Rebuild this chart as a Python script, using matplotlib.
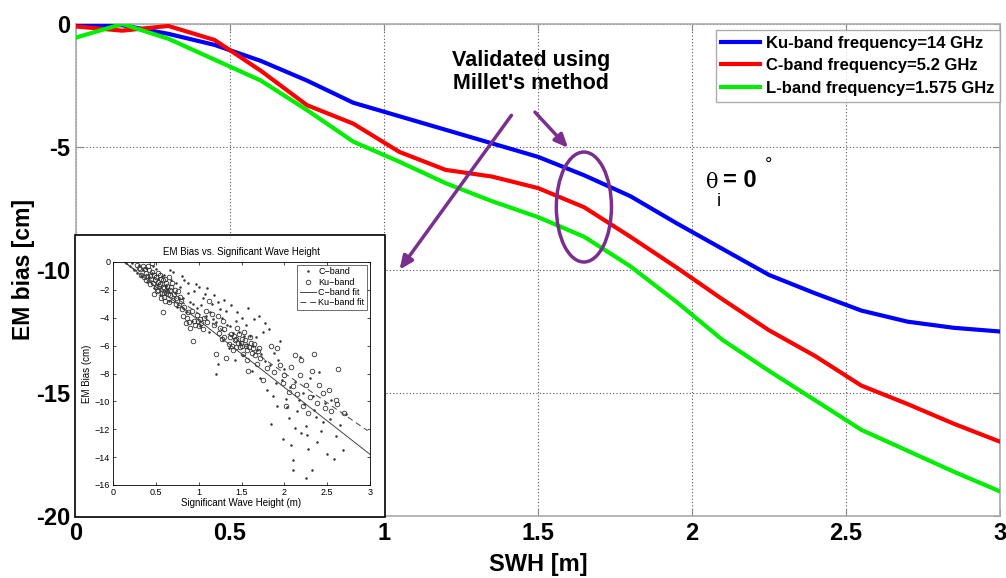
import matplotlib
matplotlib.use("Agg")
import matplotlib.pyplot as plt
from matplotlib.patches import Ellipse, Rectangle

# ---------------- main chart data ----------------
swh = [0.0, 0.15, 0.3, 0.45, 0.6, 0.75, 0.9, 1.05, 1.2, 1.35, 1.5, 1.65, 1.8,
       1.95, 2.1, 2.25, 2.4, 2.55, 2.7, 2.85, 3.0]
ku_bias = [-0.05, -0.05, -0.4, -0.85, -1.5, -2.3, -3.2, -3.75, -4.3, -4.85, -5.4,
           -6.15, -7.0, -8.1, -9.15, -10.2, -10.95, -11.65, -12.1, -12.35, -12.5]
c_bias = [-0.1, -0.27, -0.08, -0.65, -1.9, -3.3, -4.05, -5.2, -5.93, -6.2, -6.67,
          -7.45, -8.65, -9.9, -11.2, -12.45, -13.5, -14.7, -15.45, -16.25, -16.98]
l_bias = [-0.55, 0.0, -0.6, -1.45, -2.3, -3.5, -4.78, -5.6, -6.47, -7.2, -7.85,
          -8.65, -9.85, -11.3, -12.85, -14.1, -15.3, -16.5, -17.35, -18.2, -19.0]
series_labels = ["Ku-band frequency=14 GHz", "C-band frequency=5.2 GHz",
                 "L-band frequency=1.575 GHz"]
x_ticks = [0, 0.5, 1, 1.5, 2, 2.5, 3]
x_ticklabels = ["0", "0.5", "1", "1.5", "2", "2.5", "3"]
y_ticks = [0, -5, -10, -15, -20]
y_ticklabels = ["0", "-5", "-10", "-15", "-20"]

# ---------------- inset data ----------------
ku_x = [0.28, 0.32, 0.35, 0.38, 0.40, 0.42, 0.44, 0.45, 0.47, 0.48, 0.50, 0.50, 0.52, 0.53,
        0.55, 0.55, 0.57, 0.58, 0.60, 0.60, 0.62, 0.63, 0.65, 0.66, 0.68, 0.70, 0.72, 0.74,
        0.58, 0.48, 0.36, 0.43, 0.65, 0.78, 0.80,
        0.30, 0.33, 0.37, 0.39, 0.41, 0.43, 0.46, 0.49, 0.51, 0.52, 0.54, 0.56, 0.56, 0.58,
        0.59, 0.61, 0.61, 0.63, 0.64, 0.67, 0.69, 0.71, 0.73, 0.76, 0.77, 0.79, 0.83, 0.86,
        0.89, 0.92, 0.96, 0.99, 1.03, 1.06,
        0.82, 0.85, 0.88, 0.90, 0.93, 0.95, 0.98, 1.00, 1.02, 1.05, 1.08, 1.10, 1.12, 1.15,
        1.18, 1.20, 1.22, 1.25, 1.28, 1.30,
        1.35, 1.38, 1.40, 1.42, 1.45, 1.46, 1.48, 1.50, 1.52, 1.53, 1.55, 1.57, 1.60, 1.62,
        1.65, 1.68, 1.70, 1.32, 1.58,
        1.36, 1.39, 1.41, 1.43, 1.44, 1.47, 1.49, 1.51, 1.54, 1.56, 1.59, 1.61, 1.63, 1.66,
        1.69, 1.72, 1.24, 1.27, 1.30,
        1.75, 1.80, 1.85, 1.88, 1.92, 1.95, 1.98, 2.00, 2.02, 2.05, 2.08, 2.10, 2.12, 2.15,
        2.18, 2.20, 2.22, 2.25, 2.28, 2.30, 2.32, 2.35, 2.38, 2.40, 2.45, 2.48, 2.52, 2.55,
        2.62, 2.63, 2.70, 2.60]
ku_y = [-0.2, -0.5, -0.3, -0.8, -1.0, -0.6, -1.2, -0.05, -1.5, -0.9, -1.8, -1.1, -1.4, -2.0,
        -1.6, -0.9, -2.2, -1.3, -1.9, -2.5, -1.5, -2.1, -1.1, -2.4, -1.8, -2.7, -2.0, -3.0,
        -3.6, -2.3, -1.1, -1.6, -2.9, -2.5, -3.4,
        -0.4, -0.9, -0.5, -1.3, -0.3, -1.0, -0.7, -1.3, -2.1, -0.8, -1.7, -1.2, -2.6, -1.8,
        -2.2, -1.2, -2.8, -1.7, -2.3, -2.0, -1.5, -2.3, -2.6, -2.1, -3.1, -2.8, -3.2, -4.0,
        -4.3, -3.5, -4.5, -4.2, -4.4, -4.0,
        -3.9, -4.4, -3.6, -4.7, -5.7, -4.2, -3.8, -4.6, -4.1, -4.8, -3.5, -4.3, -2.8, -3.7,
        -4.5, -6.6, -3.9, -4.7, -4.2, -5.4,
        -5.9, -5.2, -6.3, -5.6, -4.7, -5.8, -6.1, -5.5, -6.6, -5.0, -6.0, -7.0, -5.4, -6.5,
        -5.9, -7.3, -6.2, -6.9, -7.8,
        -5.4, -6.0, -5.3, -6.1, -5.5, -5.2, -5.8, -6.0, -5.6, -6.3, -6.1, -5.8, -6.2, -6.7,
        -6.4, -6.9, -5.1, -5.5, -4.8,
        -8.5, -7.6, -6.0, -7.9, -6.2, -7.4, -8.7, -8.1, -10.3, -9.3, -7.5, -8.9, -6.7, -9.5,
        -8.1, -7.0, -10.3, -8.8, -10.8, -9.7, -7.8, -6.6, -10.1, -8.8, -9.4, -10.5, -9.2, -10.7,
        -10.2, -7.7, -10.8, -9.9]
c_x = [0.15, 0.20, 0.25, 0.30, 0.33, 0.38, 0.40, 0.45, 0.48, 0.50, 0.53, 0.55, 0.60, 0.62,
       0.65, 0.68, 0.70, 0.72, 0.75, 0.78, 0.80, 0.82, 0.85, 0.88, 0.90, 0.92, 0.95, 0.98,
       1.00, 1.02, 1.05, 1.08, 1.10, 1.12, 1.15, 1.18, 1.20, 1.20, 1.22, 1.25, 1.28, 1.30,
       1.33, 1.35, 1.38, 1.40, 1.42, 1.45, 1.48, 1.50, 1.52, 1.55, 1.58, 1.60, 1.62, 1.65,
       1.68, 1.70, 1.72, 1.75, 1.78, 1.80, 1.82, 1.85, 1.88, 1.90, 1.92, 1.95, 1.98, 2.00,
       2.02, 2.05, 2.08, 2.10, 2.12, 2.15, 2.18, 2.20, 2.22, 2.25, 2.25, 2.28, 2.30, 2.32,
       2.35, 2.38, 2.40, 2.45, 2.50, 2.55, 2.60, 2.68, 2.72, 2.10,
       0.22, 0.28, 0.35, 0.42, 0.47, 0.52, 0.57, 0.63, 0.67, 0.73, 0.77, 0.83, 0.87, 0.93,
       0.97, 1.03, 1.07, 1.13, 1.17, 1.23, 1.27, 1.32, 1.37, 1.43, 1.47, 1.53, 1.57, 1.63,
       1.67, 1.73, 1.77, 1.83, 1.87, 1.93, 1.97, 2.03, 2.07, 2.13, 2.17, 2.23, 2.27, 2.33,
       2.37, 2.43, 2.47, 2.53, 2.58, 2.65]
c_y = [-0.1, -0.3, -0.6, -0.2, -1.0, -0.4, -1.4, -0.8, -1.9, -0.5, -1.2, -2.4, -0.9, -1.7,
       -2.8, -1.3, -0.7, -2.2, -3.2, -1.8, -1.0, -2.6, -3.6, -1.5, -2.9, -4.2, -2.1, -3.3,
       -1.8, -4.6, -2.6, -3.9, -1.9, -5.0, -3.0, -2.4, -8.0, -4.3, -7.3, -3.4, -5.6, -2.7,
       -4.5, -6.2, -3.1, -5.1, -7.0, -3.6, -5.8, -4.0, -6.7, -4.5, -3.3, -5.3, -7.8, -4.1,
       -6.3, -3.9, -8.3, -5.0, -7.1, -9.2, -4.8, -11.6, -6.5, -8.7, -10.3, -5.7, -12.7, -7.7,
       -9.8, -11.2, -13.1, -14.2, -8.6, -10.7, -6.8, -12.3, -9.4, -15.5, -11.8, -13.4, -8.3, -14.9,
       -10.6, -12.9, -7.9, -11.5, -13.8, -9.9, -12.5, -13.5, -10.9, -14.9,
       -0.1, -0.8, -0.6, -1.1, -0.3, -1.6, -1.0, -2.0, -0.6, -1.5, -2.6, -1.3, -2.2, -3.0,
       -1.6, -3.1, -2.3, -3.6, -4.1, -2.9, -4.0, -3.5, -4.6, -4.2, -5.0, -5.3, -5.9, -6.0,
       -5.4, -6.6, -4.4, -7.4, -9.6, -7.0, -8.5, -10.4, -9.0, -11.9, -9.9, -10.2, -12.4, -9.6,
       -11.1, -12.1, -10.1, -11.3, -14.1, -11.7]
c_fit_x = [0.13, 3.0]
c_fit_y = [0.0, -13.8]
ku_fit_x = [0.13, 2.97]
ku_fit_y = [0.0, -12.1]
inset_legend = ["C\u2212band", "Ku\u2212band", "C\u2212band fit", "Ku\u2212band fit"]

# ---------------- figure ----------------
fig = plt.figure(figsize=(10.06, 5.78), dpi=100)
ax = fig.add_axes([76 / 1006, (578 - 516) / 578, 924 / 1006, 492 / 578])

bold_font = ["Liberation Sans Narrow", "Liberation Sans", "DejaVu Sans"]

ax.plot(swh, ku_bias, color="#0000ff", lw=3, label=series_labels[0], zorder=3)
ax.plot(swh, c_bias, color="#ff0000", lw=3, label=series_labels[1], zorder=3)
ax.plot(swh, l_bias, color="#00ee00", lw=3, label=series_labels[2], zorder=3)

ax.set_xlim(0, 3)
ax.set_ylim(-20, 0)
ax.set_xticks(x_ticks)
ax.set_yticks(y_ticks)
ax.set_xticklabels(x_ticklabels, fontsize=17, fontweight="bold", family=bold_font)
ax.set_yticklabels(y_ticklabels, fontsize=17, fontweight="bold", family=bold_font)
ax.tick_params(direction="in", length=5, color="#888888", top=True, right=True, pad=4)
ax.grid(True, linestyle=(0, (1, 2)), color="#555555", linewidth=0.8)
for s in ax.spines.values():
    s.set_color("#aaaaaa")
    s.set_linewidth(1.2)

ax.set_xlabel("SWH [m]", fontsize=17, fontweight="bold", family=bold_font, labelpad=6)
ax.set_ylabel("EM bias [cm]", fontsize=16.5, fontweight="bold", family=bold_font, labelpad=1)

leg = ax.legend(loc="upper right", bbox_to_anchor=(1.0, 0.988), borderaxespad=0.0,
                prop={"weight": "bold", "family": ["Liberation Sans", "DejaVu Sans"], "size": 12},
                frameon=True, fancybox=False, handlelength=2.3, borderpad=0.35,
                labelspacing=0.45, handletextpad=0.35)
leg.get_frame().set_edgecolor("#999999")
leg.get_frame().set_linewidth(1.0)

# annotations
purple = "#7a2f8f"
ax.text(1.477, -1.95, "Validated using\nMillet's method", ha="center", va="center",
        fontsize=15.5, fontweight="bold", family=["Liberation Sans", "DejaVu Sans"],
        linespacing=1.15)
ax.annotate("", xy=(1.045, -10.08), xytext=(1.419, -3.62),
            arrowprops=dict(arrowstyle="-|>,head_length=0.8,head_width=0.35",
                            color=purple, lw=2.5), zorder=5)
ax.annotate("", xy=(1.604, -5.12), xytext=(1.484, -3.5),
            arrowprops=dict(arrowstyle="-|>,head_length=0.8,head_width=0.35",
                            color=purple, lw=2.5), zorder=5)
ax.add_patch(Ellipse((1.649, -7.44), 0.179, 4.47, angle=0, fill=False,
                     edgecolor=purple, lw=2.5, zorder=5))

ax.text(2.065, -6.46, "\u03b8", ha="center", va="center", fontsize=15,
        family=["DejaVu Serif"])
ax.text(2.086, -7.2, "i", ha="center", va="center", fontsize=13,
        family=["Liberation Sans", "DejaVu Sans"])
ax.text(2.1, -6.36, "= 0", ha="left", va="center", fontsize=17, fontweight="bold",
        family=["Liberation Sans", "DejaVu Sans"])
ax.text(2.247, -5.75, "\u00b0", ha="center", va="center", fontsize=13,
        family=["Liberation Sans", "DejaVu Sans"])

# ---------------- inset ----------------
frame = Rectangle((75 / 1006, (578 - 517) / 578), 310 / 1006, 282 / 578,
                  transform=fig.transFigure, facecolor="white", edgecolor="black",
                  lw=1.2, zorder=10)
fig.patches.append(frame)

iax = fig.add_axes([113 / 1006, (578 - 485) / 578, 257 / 1006, 223 / 578], zorder=11)
small = ["Liberation Sans", "DejaVu Sans"]
iax.plot(c_x, c_y, linestyle="none", marker=".", markersize=1.6, color="#333333",
         label=inset_legend[0])
iax.plot(ku_x, ku_y, linestyle="none", marker="o", markersize=3.3, markerfacecolor="none",
         markeredgecolor="#333333", markeredgewidth=0.6, label=inset_legend[1])
iax.plot(c_fit_x, c_fit_y, color="#444444", lw=0.7, label=inset_legend[2])
iax.plot(ku_fit_x, ku_fit_y, color="#444444", lw=0.7, dashes=(6, 4), label=inset_legend[3])
iax.set_xlim(0, 3)
iax.set_ylim(-16, 0)
iax.set_xticks([0, 0.5, 1, 1.5, 2, 2.5, 3])
iax.set_xticklabels(["0", "0.5", "1", "1.5", "2", "2.5", "3"])
iax.set_yticks(list(range(-16, 1, 2)))
iax.set_yticklabels(["\u221216", "\u221214", "\u221212", "\u221210", "\u22128", "\u22126",
                     "\u22124", "\u22122", "0"])
iax.tick_params(direction="in", length=2.5, labelsize=6.5, top=True, right=True, pad=2,
                width=0.5)
for lab in iax.get_xticklabels() + iax.get_yticklabels():
    lab.set_family(small)
for s in iax.spines.values():
    s.set_linewidth(0.6)
iax.set_title("EM Bias vs. Significant Wave Height", fontsize=7, family=small, pad=5)
iax.set_xlabel("Significant Wave Height (m)", fontsize=7, family=small, labelpad=1)
iax.set_ylabel("EM Bias (cm)", fontsize=7, family=small, labelpad=2)
il = iax.legend(loc="upper right", frameon=True, fancybox=False,
                borderpad=0.3, labelspacing=0.15, handlelength=1.8, handletextpad=0.3,
                borderaxespad=0.3, prop={"family": small, "size": 6.5})
il.get_frame().set_edgecolor("black")
il.get_frame().set_linewidth(0.5)

fig.savefig("out.png", dpi=100)
